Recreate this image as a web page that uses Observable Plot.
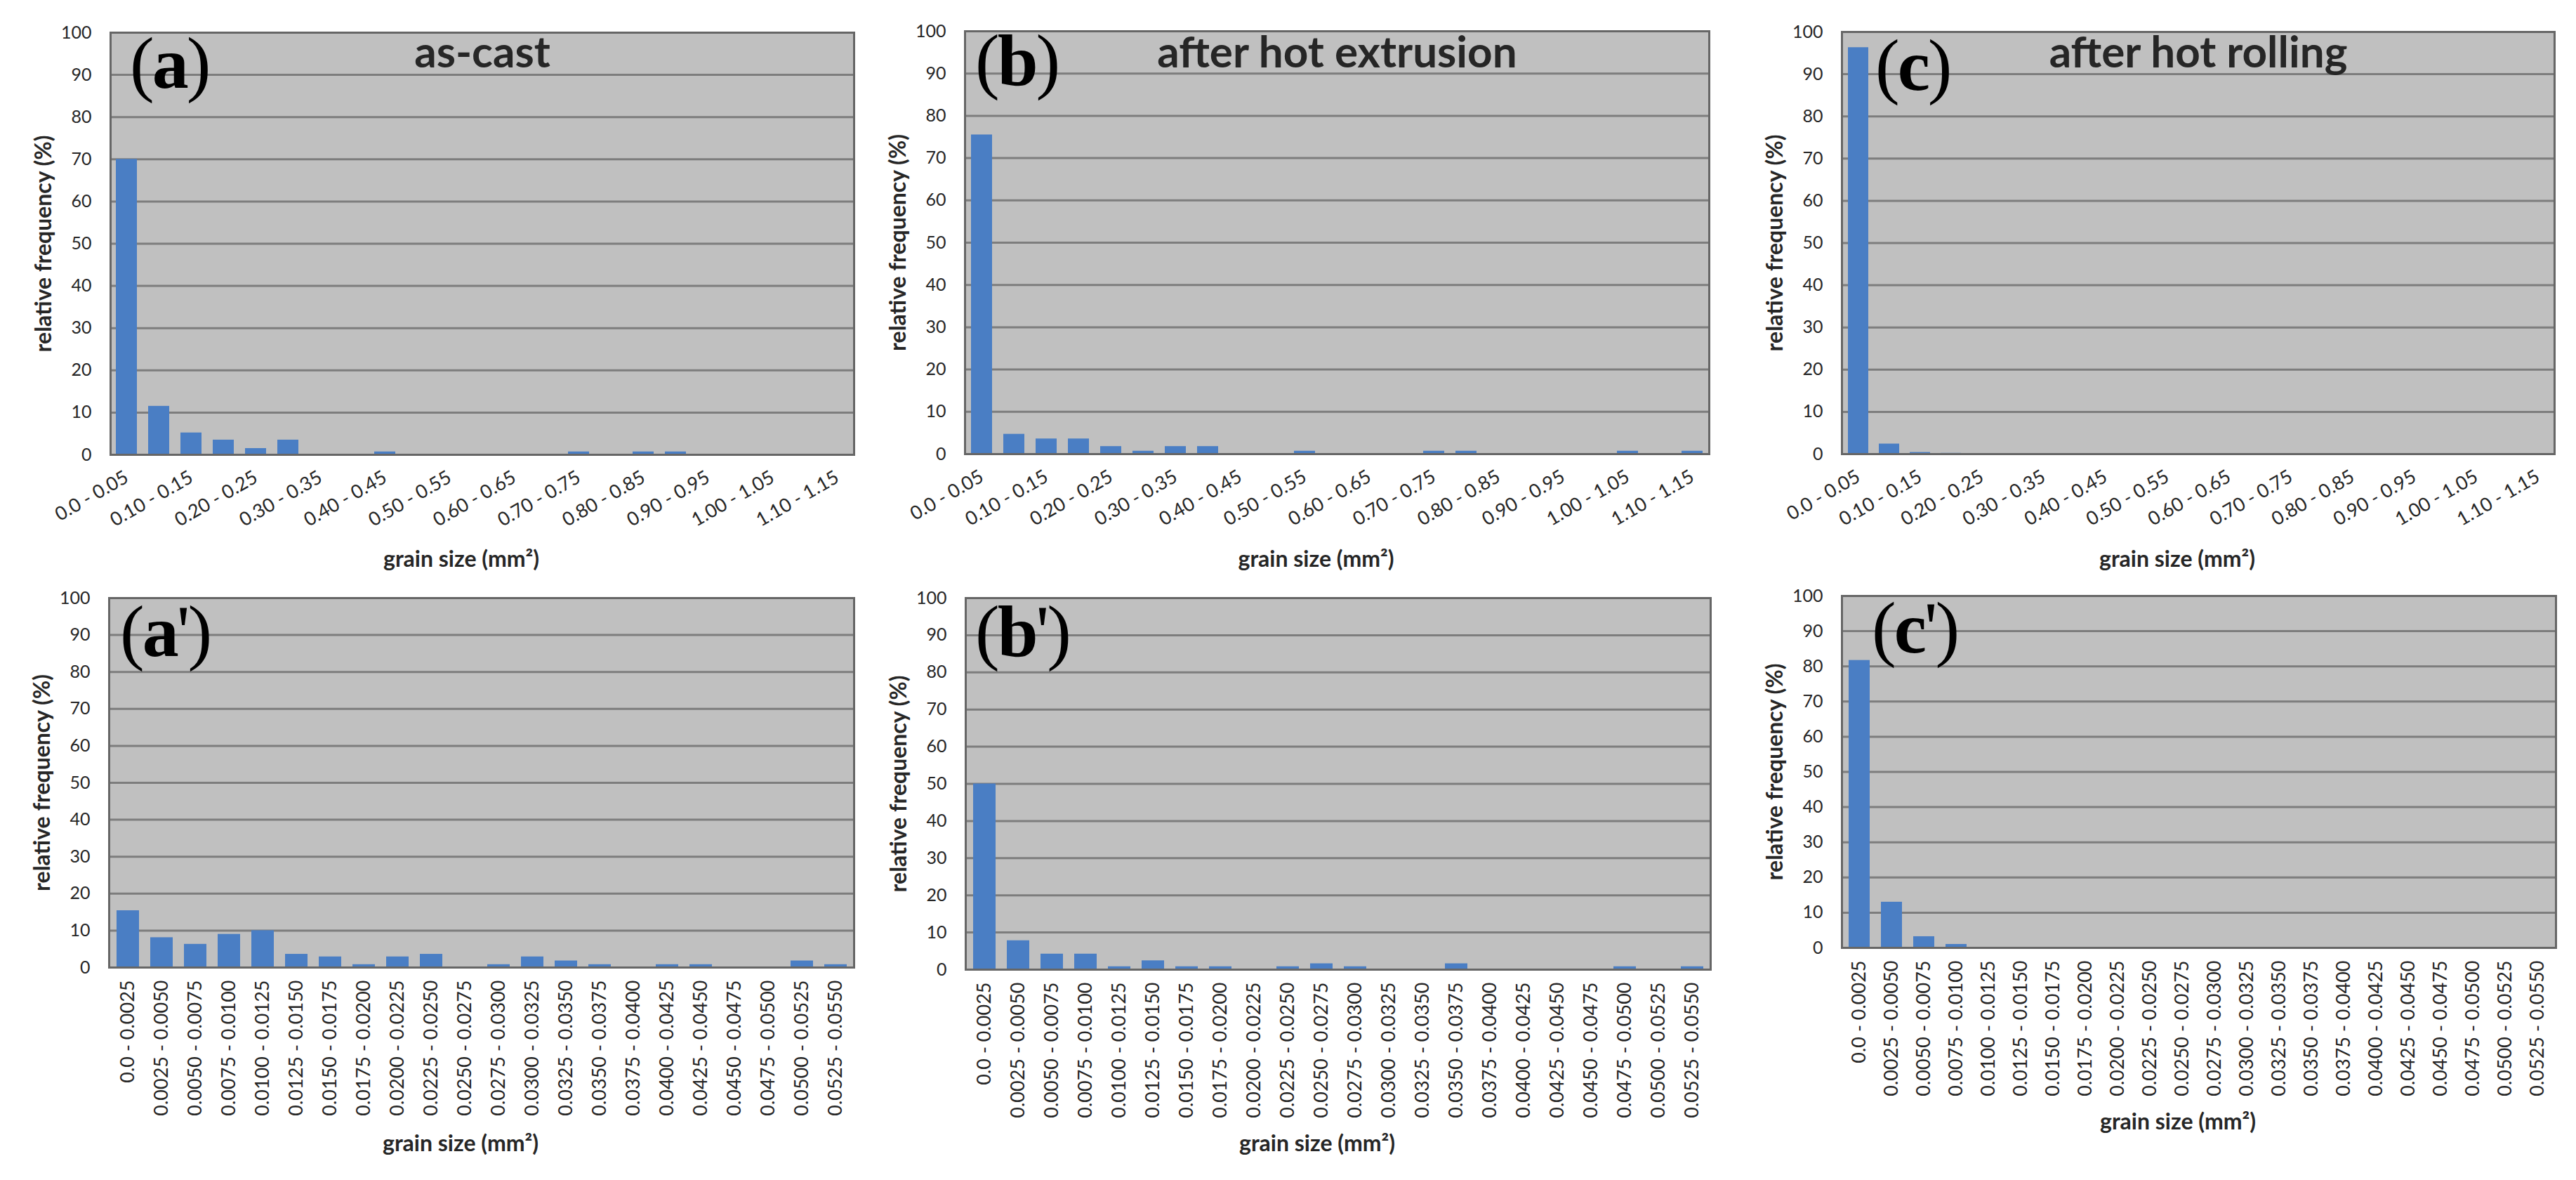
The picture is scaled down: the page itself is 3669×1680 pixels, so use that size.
<!DOCTYPE html>
<html>
<head>
<meta charset="utf-8">
<script src="https://cdn.jsdelivr.net/npm/d3@7"></script>
<script src="https://cdn.jsdelivr.net/npm/@observablehq/plot@0.6"></script>
<style>
  html, body { margin: 0; padding: 0; background: #fff; }
  #root { position: relative; width: 3669px; height: 1680px; overflow: hidden; background: #fff; }
  .panel { position: absolute; }
  .tag { position: absolute; font-family: "Liberation Serif", "DejaVu Serif", serif; font-size: 104px;
         line-height: 1; color: #000; white-space: nowrap; letter-spacing: -3px; }
  .tag .p { font-weight: 400; }
  .tag .l { font-weight: 700; }
</style>
</head>
<body>
<div id="root"></div>
<script>
// ---------- data ----------
const yTicks = [0, 10, 20, 30, 40, 50, 60, 70, 80, 90, 100];

const coarseBins = [
  "0.0 - 0.05", "0.05 - 0.10", "0.10 - 0.15", "0.15 - 0.20", "0.20 - 0.25", "0.25 - 0.30",
  "0.30 - 0.35", "0.35 - 0.40", "0.40 - 0.45", "0.45 - 0.50", "0.50 - 0.55", "0.55 - 0.60",
  "0.60 - 0.65", "0.65 - 0.70", "0.70 - 0.75", "0.75 - 0.80", "0.80 - 0.85", "0.85 - 0.90",
  "0.90 - 0.95", "0.95 - 1.00", "1.00 - 1.05", "1.05 - 1.10", "1.10 - 1.15"
];
const coarseTickLabels = [
  "0.0 - 0.05", "0.10 - 0.15", "0.20 - 0.25", "0.30 - 0.35", "0.40 - 0.45", "0.50 - 0.55",
  "0.60 - 0.65", "0.70 - 0.75", "0.80 - 0.85", "0.90 - 0.95", "1.00 - 1.05", "1.10 - 1.15"
];
const fineBins = [
  "0.0 - 0.0025", "0.0025 - 0.0050", "0.0050 - 0.0075", "0.0075 - 0.0100", "0.0100 - 0.0125",
  "0.0125 - 0.0150", "0.0150 - 0.0175", "0.0175 - 0.0200", "0.0200 - 0.0225", "0.0225 - 0.0250",
  "0.0250 - 0.0275", "0.0275 - 0.0300", "0.0300 - 0.0325", "0.0325 - 0.0350", "0.0350 - 0.0375",
  "0.0375 - 0.0400", "0.0400 - 0.0425", "0.0425 - 0.0450", "0.0450 - 0.0475", "0.0475 - 0.0500",
  "0.0500 - 0.0525", "0.0525 - 0.0550"
];

// relative frequency (%)
const asCast        = [70, 11.5, 5.2, 3.5, 1.5, 3.5, 0, 0, 0.7, 0, 0, 0, 0, 0, 0.7, 0, 0.7, 0.7, 0, 0, 0, 0, 0];
const hotExtrusion  = [75.5, 4.7, 3.6, 3.6, 1.8, 0.7, 1.8, 1.8, 0, 0, 0.7, 0, 0, 0, 0.7, 0.7, 0, 0, 0, 0, 0.7, 0, 0.7];
const hotRolling    = [96.3, 2.4, 0.4, 0.2, 0, 0, 0, 0, 0, 0, 0, 0, 0, 0, 0, 0, 0, 0, 0, 0, 0, 0, 0];
const asCastFine    = [15.4, 8.1, 6.3, 9.0, 10.0, 3.6, 2.9, 0.8, 2.9, 3.6, 0, 0.8, 2.9, 1.8, 0.8, 0, 0.8, 0.8, 0, 0, 1.8, 0.8];
const extrusionFine = [50, 7.8, 4.2, 4.2, 0.8, 2.4, 0.8, 0.8, 0, 0.8, 1.6, 0.8, 0, 0, 1.6, 0, 0, 0, 0, 0.8, 0, 0.8];
const rollingFine   = [81.7, 13.0, 3.2, 1.0, 0.2, 0, 0, 0, 0, 0, 0, 0, 0, 0, 0, 0, 0, 0, 0, 0, 0, 0];

const titles = ["as-cast", "after hot extrusion", "after hot rolling"];
const yLabel = "relative frequency (%)";
const xLabel = "grain size (mm²)";

// ---------- drawing ----------
const SANS = 'Lato, "Open Sans", "Liberation Sans", sans-serif';
const BAR = "#4a7ec4";

function histogram(cfg) {
  const data = cfg.bins.map((bin, i) => ({bin, value: cfg.values[i]}));
  const marks = [
    Plot.frame({fill: "#c0c0c0", stroke: "none"}),
    Plot.ruleY(yTicks, {stroke: "#7d7d7d", strokeWidth: 3}),
    Plot.barY(data, {x: "bin", y: "value", fill: BAR}),
    Plot.frame({stroke: "#666666", strokeWidth: 3}),
    Plot.axisY({ticks: yTicks, tickSize: 0, tickPadding: 27, fontSize: 25, label: null}),
    Plot.axisX({ticks: cfg.ticks, tickSize: 0, tickRotate: cfg.rotate, tickPadding: cfg.tickPadding, fontSize: 27, label: null}),
    Plot.text([yLabel], {frameAnchor: "left", textAnchor: "middle", lineAnchor: "middle", dx: -95, rotate: -90, fontSize: 32, fontWeight: "bold"}),
    Plot.text([xLabel], {frameAnchor: "bottom", textAnchor: "middle", lineAnchor: "middle", dx: -30, dy: cfg.xLabelDy, fontSize: 32, fontWeight: "bold"})
  ];
  if (cfg.title) {
    marks.push(Plot.text([cfg.title], {frameAnchor: "top", textAnchor: "middle", lineAnchor: "top", dy: 51 - cfg.mt, fontSize: 62, fontWeight: "bold"}));
  }
  return Plot.plot({
    width: cfg.width, height: cfg.height,
    marginTop: cfg.mt, marginBottom: cfg.mb, marginLeft: cfg.ml, marginRight: cfg.mr,
    style: {background: "transparent", maxWidth: "none", overflow: "visible", fontFamily: SANS, color: "#262626"},
    x: {type: "band", domain: cfg.bins, paddingInner: 0.34, paddingOuter: 0.17, align: 0.5},
    y: {domain: [0, 100]},
    marks
  });
}

const panels = [
  {left: 0,    top: 0,   width: 1230, height: 830, ml: 157, mr: 14, mt: 46, mb: 183, bins: coarseBins, values: asCast,       ticks: coarseTickLabels, rotate: -30, tickPadding: 30, xLabelDy: 149, title: titles[0], tag: "a",  tagX: 185,  tagY: 53},
  {left: 1220, top: 0,   width: 1230, height: 830, ml: 154, mr: 16, mt: 44, mb: 184, bins: coarseBins, values: hotExtrusion, ticks: coarseTickLabels, rotate: -30, tickPadding: 30, xLabelDy: 150, title: titles[1], tag: "b",  tagX: 1389, tagY: 49},
  {left: 2440, top: 0,   width: 1229, height: 830, ml: 183, mr: 31, mt: 45, mb: 184, bins: coarseBins, values: hotRolling,   ticks: coarseTickLabels, rotate: -30, tickPadding: 30, xLabelDy: 150, title: titles[2], tag: "c",  tagX: 2671, tagY: 56},
  {left: 0,    top: 830, width: 1230, height: 850, ml: 155, mr: 14, mt: 21, mb: 303, bins: fineBins,   values: asCastFine,    ticks: fineBins, rotate: -90, tickPadding: 18, xLabelDy: 251, title: null, tag: "a'", tagX: 171,  tagY: 862},
  {left: 1220, top: 830, width: 1230, height: 850, ml: 155, mr: 14, mt: 21, mb: 300, bins: fineBins,   values: extrusionFine, ticks: fineBins, rotate: -90, tickPadding: 18, xLabelDy: 248, title: null, tag: "b'", tagX: 1389, tagY: 862},
  {left: 2440, top: 830, width: 1229, height: 850, ml: 183, mr: 29, mt: 18, mb: 331, bins: fineBins,   values: rollingFine,   ticks: fineBins, rotate: -90, tickPadding: 18, xLabelDy: 248, title: null, tag: "c'", tagX: 2666, tagY: 857}
];

const root = document.getElementById("root");
for (const p of panels) {
  const div = document.createElement("div");
  div.className = "panel";
  div.style.left = p.left + "px";
  div.style.top = p.top + "px";
  div.appendChild(histogram(p));
  root.appendChild(div);
}
for (const p of panels) {
  const t = document.createElement("div");
  t.className = "tag";
  t.style.left = p.tagX + "px";
  t.style.top = (p.tagY - 15) + "px";
  const letter = p.tag.replace("'", "");
  const prime = p.tag.includes("'") ? "'" : "";
  t.innerHTML = '<span class="p">(</span><span class="l">' + letter + '</span><span class="p">' + prime + ')</span>';
  root.appendChild(t);
}
</script>
</body>
</html>
